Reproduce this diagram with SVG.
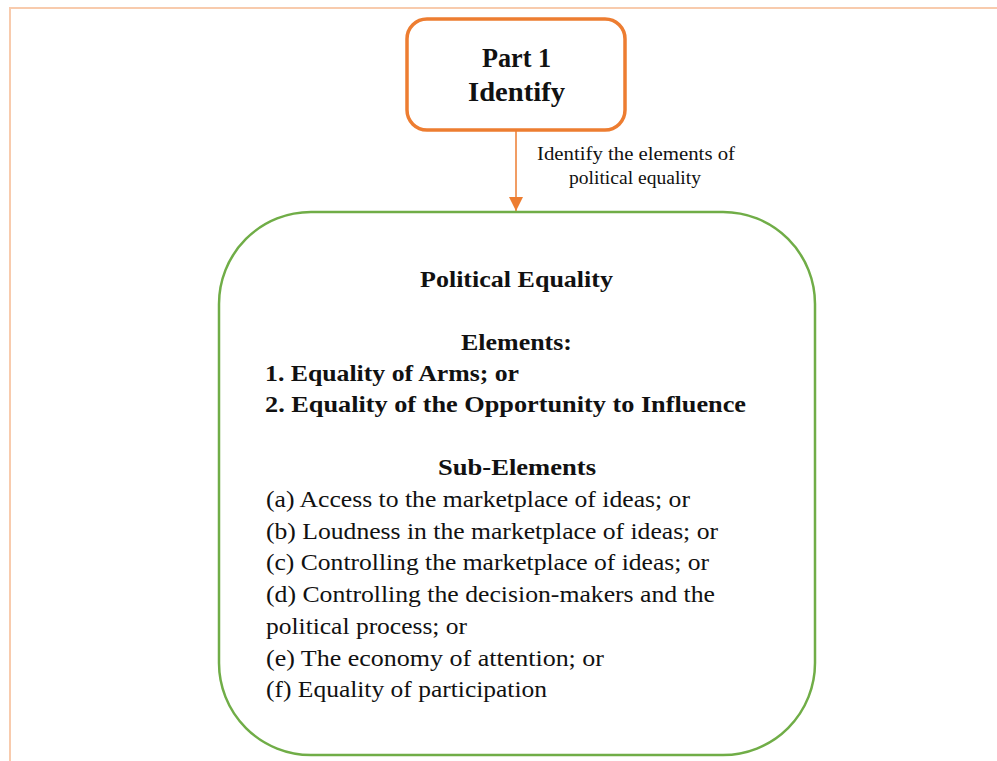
<svg xmlns="http://www.w3.org/2000/svg" width="997" height="761" viewBox="0 0 997 761">
  <style>
    .serif { font-family: "Liberation Serif", "Times New Roman", serif; fill: #111; }
    .title { font-size: 27px; font-weight: bold; text-anchor: middle; }
    .head { font-size: 23px; font-weight: bold; }
    .item { font-size: 24px; }
    .note { font-size: 18.5px; text-anchor: middle; }
    .frame { stroke: #f8cbad; stroke-width: 2; fill: none; }
  </style>
  <defs>
    <marker id="arrow" viewBox="0 0 14 14" refX="14" refY="7" markerWidth="14" markerHeight="14" markerUnits="userSpaceOnUse" orient="auto">
      <path d="M0,0 L14,7 L0,14 Z" fill="#ed7d31"/>
    </marker>
  </defs>

  <rect width="997" height="761" fill="#ffffff"/>

  <!-- page frame -->
  <path class="frame" d="M997,8 H10 V761"/>

  <!-- connectors -->
  <g id="connectors">
    <line x1="516" y1="131" x2="516" y2="211" stroke="#ed7d31" stroke-width="1.5" marker-end="url(#arrow)"/>
    <text class="serif note" x="636" y="160" textLength="198" lengthAdjust="spacingAndGlyphs">Identify the elements of</text>
    <text class="serif note" x="635" y="184" textLength="132" lengthAdjust="spacingAndGlyphs">political equality</text>
  </g>

  <!-- top step -->
  <g id="part1">
    <rect x="407" y="19" width="218" height="111" rx="20" ry="20" fill="#ffffff" stroke="#ed7d31" stroke-width="3.5"/>
    <text class="serif title" x="516.5" y="67" textLength="69" lengthAdjust="spacingAndGlyphs">Part 1</text>
    <text class="serif title" x="516.5" y="101" textLength="97" lengthAdjust="spacingAndGlyphs">Identify</text>
  </g>

  <!-- political equality block -->
  <g id="political-equality">
    <rect x="219" y="212" width="596" height="543" rx="92" ry="92" fill="#ffffff" stroke="#70ad47" stroke-width="2.5"/>
    <text class="serif head" x="516.5" y="287" text-anchor="middle" textLength="193" lengthAdjust="spacingAndGlyphs">Political Equality</text>
    <text class="serif head" x="516.5" y="350" text-anchor="middle" textLength="111" lengthAdjust="spacingAndGlyphs">Elements:</text>
    <text class="serif head" x="265" y="381" textLength="254" lengthAdjust="spacingAndGlyphs">1. Equality of Arms; or</text>
    <text class="serif head" x="265" y="412" textLength="481" lengthAdjust="spacingAndGlyphs">2. Equality of the Opportunity to Influence</text>
    <text class="serif head" x="517" y="475" text-anchor="middle" textLength="158" lengthAdjust="spacingAndGlyphs">Sub-Elements</text>
    <text class="serif item" x="266" y="507" textLength="424" lengthAdjust="spacingAndGlyphs">(a) Access to the marketplace of ideas; or</text>
    <text class="serif item" x="266" y="539" textLength="452" lengthAdjust="spacingAndGlyphs">(b) Loudness in the marketplace of ideas; or</text>
    <text class="serif item" x="266" y="570" textLength="443" lengthAdjust="spacingAndGlyphs">(c) Controlling the marketplace of ideas; or</text>
    <text class="serif item" x="266" y="602" textLength="449" lengthAdjust="spacingAndGlyphs">(d) Controlling the decision-makers and the</text>
    <text class="serif item" x="266" y="634" textLength="201" lengthAdjust="spacingAndGlyphs">political process; or</text>
    <text class="serif item" x="266" y="666" textLength="338" lengthAdjust="spacingAndGlyphs">(e) The economy of attention; or</text>
    <text class="serif item" x="266" y="697" textLength="281" lengthAdjust="spacingAndGlyphs">(f) Equality of participation</text>
  </g>
</svg>
